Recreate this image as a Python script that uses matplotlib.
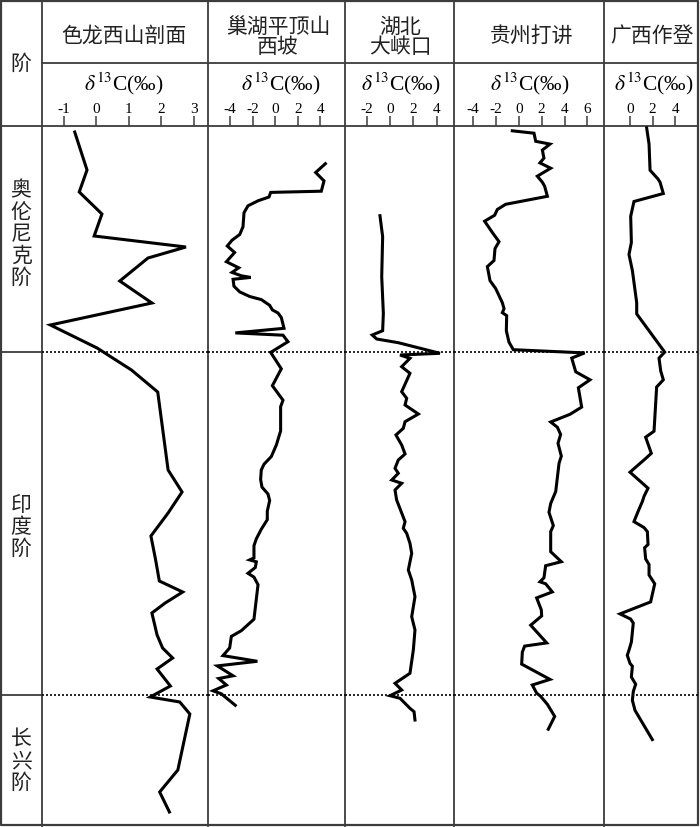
import matplotlib
matplotlib.use("Agg")
import matplotlib.pyplot as plt

plt.rcParams["font.family"] = ["Liberation Serif", "Noto Sans CJK SC", "DejaVu Serif"]
plt.rcParams["mathtext.fontset"] = "stix"
plt.rcParams["axes.unicode_minus"] = False

CJK = ["Noto Sans CJK SC", "DejaVu Sans"]

# stratigraphic position (relative units, 0 = top of column) and d13C (permil)
seron_depth = [6, 44, 66, 88, 110, 121, 132, 155, 177, 199, 222, 244, 266, 344, 366, 387,
               410, 433, 455, 466, 477, 487, 509, 522, 532, 543, 560, 571, 576, 588, 644, 666, 686]
seron_d13c = [-0.67, -0.29, -0.53, 0.17, -0.07, 2.76, 1.59, 0.72, 1.71, -1.42, 0.02, 1.08, 1.89,
              2.21, 2.64, 2.21, 1.68, 1.82, 1.94, 2.66, 2.12, 1.71, 1.87, 2.04, 2.35, 1.87, 2.28,
              1.66, 2.57, 2.88, 2.51, 1.95, 2.25]

chaohu_depth = [37.7, 46.5, 54.9, 65.2, 66.4, 71.0, 74.8, 79.8, 86.7, 100.8,
                108.5, 114.2, 120.0, 126.5, 135.7, 141.8, 146.4, 149.8, 151.4, 153.3,
                160.2, 165.9, 170.5, 173.6, 179.3, 183.9, 187.0, 191.5, 202.3, 206.9,
                209.2, 215.7, 226.4, 242.8, 259.7, 274.2, 280.7, 304.9, 319.0, 330.5,
                338.2, 343.9, 353.5, 361.1, 368.0, 374.5, 385.2, 393.7, 403.2, 412.8,
                419.7, 431.9, 433.9, 435.8, 441.5, 447.3, 451.1, 458.7, 493.2, 504.7,
                510.4, 521.9, 529.6, 535.3, 539.9, 549.8, 552.5, 559.0, 564.8, 567.8, 579.3]
chaohu_d13c = [4.44, 3.58, 4.32, 4.08, -0.40, -0.55, -1.52, -2.41, -2.76, -2.85,
               -3.14, -3.82, -4.24, -3.59, -4.32, -3.23, -3.82, -3.00, -2.17, -3.73,
               -3.65, -3.14, -2.26, -1.23, -0.49, -0.25, 0.25, 0.54, 0.78, -3.53,
               0.69, 1.13, -0.40, 0.54, -0.25, 0.69, 0.48, 0.48, 0.10, -0.34,
               -0.99, -1.23, -1.29, -1.17, -0.64, -0.49, -0.70, -0.70, -1.23, -1.67,
               -1.88, -1.88, -2.26, -1.67, -1.76, -2.41, -1.88, -1.52, -1.88, -3.00,
               -3.88, -4.03, -4.62, -1.58, -5.12, -3.73, -5.00, -4.32, -5.50, -4.77, -3.53]

daxiakou_depth = [89.7, 110.7, 150.7, 187.3, 204.7, 209, 213, 216.7, 227.3, 229, 232.3, 240.7,
                  247.3, 265.7, 272.3, 279, 288, 295.7, 302.3, 309, 319, 328, 334, 342.3,
                  347.3, 354, 357.3, 364, 374, 395.7, 402.3, 407.3, 417.3, 427.3, 444, 454,
                  470.7, 490.7, 504, 524, 547.3, 557.3, 564, 569.7, 572.3, 582.3, 585.7, 594]
daxiakou_d13c = [-0.86, -0.63, -0.71, -0.57, -0.63, -1.52, -1.14, 0.71, 4.28, 0.86, 1.71, 1.00,
                 1.71, 1.00, 1.43, 1.29, 2.43, 1.29, 1.14, 0.51, 1.00, 1.29, 0.71, 0.43,
                 0.71, 0.15, 1.00, 0.43, 0.57, 1.29, 1.14, 1.43, 1.71, 1.86, 1.57, 1.86,
                 2.14, 1.86, 2.14, 2.00, 1.71, 0.43, 1.00, 0.00, 0.86, 1.71, 2.06, 2.14]

dajiang_depth = [4.8, 7.2, 15.3, 18.1, 24.1, 32.1, 36.9, 42.2, 50.2, 56.2, 60.2, 70.3, 78.3, 83.5,
                 89.2, 95.2, 106.4, 115.7, 122.5, 134.5, 140.6, 154.6, 162.6, 176.7, 182.7,
                 186.7, 189.6, 204.8, 216.1, 223.7, 226.9, 232.1, 245.8, 253.8, 261.8, 281.1,
                 288.3, 296.0, 301.2, 308.4, 317.3, 330.1, 337.3, 365.5, 377.5, 386.3, 399.6,
                 405.6, 425.7, 435.7, 439.7, 451.8, 455.8, 457.8, 465.9, 471.9, 483.9, 489.9,
                 499.2, 516.9, 520.1, 526.1, 538.1, 553.4, 559.0, 567.1, 570.3, 578.3, 590.4, 603.2]
dajiang_d13c = [-0.57, 1.33, 1.48, 2.73, 2.06, 2.20, 1.85, 2.79, 1.62, 2.06, 2.26, 2.50, -1.15,
                -1.88, -2.11, -2.99, -2.32, -1.73, -2.08, -2.17, -2.75, -2.52, -2.02, -1.44,
                -1.29, -1.44, -1.06, -1.09, -0.86, -0.48, 5.76, 4.63, 4.98, 6.23, 5.21, 5.50,
                4.48, 2.79, 3.37, 3.66, 3.43, 3.72, 3.52, 3.23, 2.79, 2.64, 3.02, 2.79, 2.79,
                3.72, 2.35, 2.20, 1.85, 2.35, 2.93, 1.56, 1.97, 2.00, 1.04, 2.44, 0.51, 0.31,
                0.25, 2.73, 1.18, 1.56, 1.91, 2.50, 3.14, 2.58]

zuodeng_depth = [2.0, 18.1, 44.2, 53.0, 56.2, 67.5, 75.5, 90.4, 116.5, 128.5, 144.6, 176.7,
                 187.9, 226.1, 232.1, 245.0, 253.8, 261.0, 305.2, 311.2, 327.3, 332.5, 346.2,
                 362.2, 370.3, 375.5, 385.5, 395.6, 401.6, 405.6, 418.5, 421.7, 432.9, 438.5,
                 449.0, 457.8, 475.9, 487.9, 493.1, 497.1, 516.1, 524.2, 529.3, 537.4, 540.2,
                 551.0, 558.2, 565.5, 574.3, 584.3, 613.6]
zuodeng_d13c = [1.47, 1.68, 1.77, 2.47, 2.65, 2.94, 0.35, 0.06, 0.12, -0.09, 0.21, 0.59, 0.59,
                3.06, 2.56, 2.71, 2.94, 2.35, 2.12, 1.38, 1.88, 1.38, 0.00, 1.59, 1.24, 1.09,
                0.71, 0.35, 1.24, 1.53, 1.59, 1.29, 1.38, 1.68, 1.68, 2.18, 1.82, -0.88, 0.06,
                0.29, 0.12, -0.09, -0.24, 0.00, 0.21, 0.12, 0.50, 0.29, 0.21, 0.44, 1.97]

section_titles = [["色龙西山剖面"], ["巢湖平顶山", "西坡"], ["湖北", "大峡口"], ["贵州打讲"], ["广西作登"]]
section_ticks = [[-1, 0, 1, 2, 3], [-4, -2, 0, 2, 4], [-2, 0, 2, 4], [-4, -2, 0, 2, 4, 6], [0, 2, 4]]
section_depths = [seron_depth, chaohu_depth, daxiakou_depth, dajiang_depth, zuodeng_depth]
section_values = [seron_d13c, chaohu_d13c, daxiakou_d13c, dajiang_d13c, zuodeng_d13c]

stage_names = ["奥伦尼克阶", "印度阶", "长兴阶"]
stage_boundaries = [226, 569]

# ---- layout (pixels) ----
W, H = 700, 827
col_edges = [42, 208, 345, 454, 604, 698]
xlims = [(-1.678, 3.440), (-5.947, 6.177), (-3.856, 5.484), (-5.669, 7.454), (-2.295, 6.0)]
title_x = [124, 278, 400, 532, 652]
label_x = [124, 281, 401, 530, 654]
plot_top, plot_h = 126, 700
grid = "#3c3c3c"

fig = plt.figure(figsize=(W / 100, H / 100), dpi=100)
frame = fig.add_axes([0, 0, 1, 1])
frame.set_xlim(0, W)
frame.set_ylim(H, 0)
frame.axis("off")

frame.plot([1, 698, 698, 1, 1], [1, 1, 825, 825, 1], color=grid, lw=1.6)
for x in col_edges[:-1]:
    frame.plot([x, x], [0, 826], color=grid, lw=1.3)
frame.plot([42, 698], [63, 63], color=grid, lw=1.3)
frame.plot([1, 698], [126, 126], color=grid, lw=1.3)
for b in stage_boundaries:
    frame.plot([1, 42], [plot_top + b, plot_top + b], color=grid, lw=1.3)

cjk_kw = dict(family=CJK, fontsize=15, fontweight="light", color="#222222",
              ha="center", va="center")
frame.text(21, 64, "阶", **cjk_kw)

# stage labels, written vertically
stage_centers = [234, 527, 761]
for name, yc in zip(stage_names, stage_centers):
    n = len(name)
    for k, ch in enumerate(name):
        frame.text(21, yc + (k - (n - 1) / 2) * 22, ch, **cjk_kw)

for i, lines in enumerate(section_titles):
    ys = [35.5] if len(lines) == 1 else [26.5, 47]
    for line, y in zip(lines, ys):
        frame.text(title_x[i], y, line, **cjk_kw)
    frame.text(label_x[i], 84, r"$\delta^{13}$C(‰)", fontsize=15.5, ha="center", va="center")

for i in range(5):
    x0, x1 = col_edges[i], col_edges[i + 1]
    ax = fig.add_axes([x0 / W, 1 - (plot_top + plot_h) / H, (x1 - x0) / W, plot_h / H])
    ax.patch.set_alpha(0)
    for b in stage_boundaries:
        ax.axhline(b, color="black", lw=1.2, ls=(0, (1.2, 1.2)))
    ax.plot(section_values[i], section_depths[i], color="black", lw=2.2,
            solid_joinstyle="miter")
    ax.set_xlim(*xlims[i])
    ax.set_ylim(plot_h, 0)
    for s in ax.spines.values():
        s.set_visible(False)
    ax.xaxis.tick_top()
    ax.set_xticks(section_ticks[i])
    ax.set_yticks([])
    ax.tick_params(axis="x", direction="out", length=7, width=1.1, pad=0.5,
                   labelsize=11, color=grid)

fig.savefig("out.png", dpi=100)
